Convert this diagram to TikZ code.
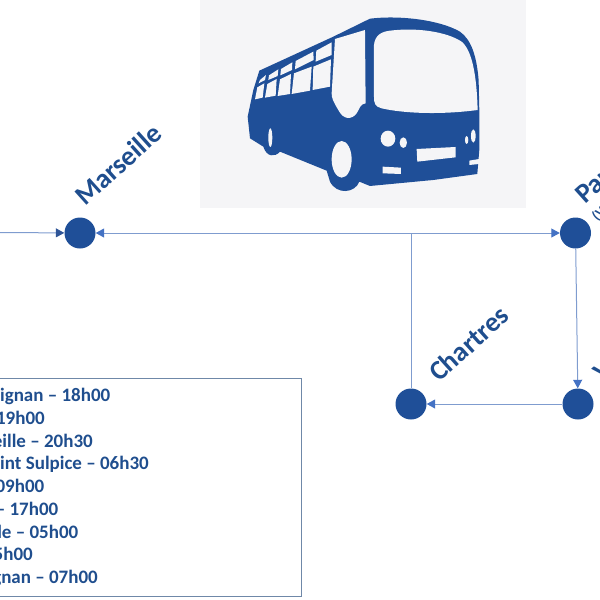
\documentclass[tikz,border=0pt]{standalone}
\usepackage{fontspec}
\setmainfont{Carlito}
\usetikzlibrary{arrows.meta}
\definecolor{busblue}{HTML}{1F4F98}
\definecolor{inkblue}{HTML}{1F4E8E}
\definecolor{linkblue}{HTML}{7F9CCF}
\definecolor{tipblue}{HTML}{4472C4}
\definecolor{tipdark}{HTML}{2F5597}
\definecolor{boxedge}{HTML}{6F88A8}
\definecolor{panel}{HTML}{F5F5F7}
\tikzset{
  stop/.style={circle,fill=busblue,draw=none,minimum size=31pt,inner sep=0pt},
  city/.style={font=\bfseries\fontsize{27.5}{28}\selectfont,text=inkblue,rotate=42,anchor=base west,inner sep=0pt},
  subcity/.style={font=\bfseries\fontsize{14}{14}\selectfont,text=inkblue,rotate=42,anchor=base west,inner sep=0pt},
  row/.style={font=\bfseries\fontsize{19}{20}\selectfont,text=inkblue,anchor=base east,inner sep=0pt},
  link/.style={draw=linkblue,line width=1pt},
  linktip/.style={-{Triangle[length=8.5pt,width=9pt,color=tipblue]}},
  hole/.style={fill=panel,draw=none},
}
\begin{document}
\begin{tikzpicture}[x=1pt,y=-1pt]
\useasboundingbox (0,0) rectangle (600,600);
\fill[panel] (200,0) rectangle (526,208);
% bus
\begin{scope}[shift={(200,0)},x=0.3333pt,y=-0.3333pt]
\fill[busblue] (510,56) .. controls (600,45) and (720,60) .. (780,95)
  .. controls (815,120) and (830,170) .. (836,240) -- (838,330) -- (838,450) -- (832,522)
  -- (700,540) -- (510,558) -- (478,545)
  .. controls (465,580) and (410,585) .. (390,545) -- (380,512)
  -- (240,455) .. controls (225,472) and (200,472) .. (190,440)
  -- (150,415) -- (143,350) -- (160,270) -- (178,212) -- (400,110) -- cycle;
\fill[hole] (522,135) .. controls (525,105) and (545,95) .. (570,92)
  .. controls (650,82) and (740,95) .. (785,125)
  .. controls (815,150) and (830,220) .. (833,330)
  .. controls (720,345) and (610,340) .. (545,325)
  .. controls (525,320) and (522,310) .. (522,290) -- cycle;
\fill[hole] (405,117) -- (495,90) -- (497,310)
  .. controls (480,312) and (480,325) .. (470,340)
  .. controls (455,360) and (430,360) .. (415,330)
  .. controls (400,305) and (395,295) .. (395,280) -- cycle;
\fill[hole] (349,152) -- (395,127) -- (395,165) -- (347,185) -- cycle;
\fill[hole] (287,183) -- (340,155) -- (341,180) -- (285,208) -- cycle;
\fill[hole] (243,207) -- (277,187) -- (276,210) -- (241,226) -- cycle;
\fill[hole] (207,226) -- (235,208) -- (233,228) -- (205,240) -- cycle;
\fill[hole] (180,240) -- (198,225) -- (195,240) -- (176,250) -- cycle;
\fill[hole] (340,200) -- (393,178) -- (390,260) -- (338,270) -- cycle;
\fill[hole] (282,220) -- (335,200) -- (330,272) -- (275,282) -- cycle;
\fill[hole] (240,238) -- (273,222) -- (270,282) -- (233,288) -- cycle;
\fill[hole] (202,252) -- (230,237) -- (227,287) -- (195,293) -- cycle;
\fill[hole] (172,262) -- (193,250) -- (188,293) -- (165,298) -- cycle;
\fill[hole] (564,416) ellipse [x radius=22,y radius=24];
\fill[hole] (610,428) ellipse [x radius=11,y radius=16];
\fill[hole] (820,408) ellipse [x radius=7,y radius=20];
\fill[hole] (800,420) ellipse [x radius=5,y radius=12];
\fill[hole] (650,447) -- (767,441) -- (767,472) -- (652,485) -- cycle;
\fill[hole] (548,500) -- (603,503) -- (603,522) -- (548,520) -- cycle;
\fill[hole] (808,482) -- (838,477) -- (838,492) -- (808,495) -- cycle;
\fill[hole] (425,478) ellipse [x radius=30,y radius=55];
\fill[hole] (211,413) ellipse [x radius=6,y radius=28];
\end{scope}
% stops
\node[stop] (marseille) at (80,233) {};
\node[stop] (paris) at (575.5,233) {};
\node[stop] (chartres) at (411,404) {};
\node[stop] (versailles) at (578,404) {};
\coordinate (westend) at (-2,232.5);
\coordinate (junction) at (411,233);
% connectors
\draw[link,-{Triangle[length=8.5pt,width=9pt,color=tipdark]}] (westend) -- (marseille);
\draw[link,{Triangle[length=8.5pt,width=9pt,color=tipblue]}-{Triangle[length=8.5pt,width=9pt,color=tipblue]}] (marseille) -- (paris);
\draw[link] (chartres) -- (junction);
\draw[link,linktip] (paris) -- (versailles);
\draw[link,linktip] (versailles) -- (chartres);
% labels
\node[city] (lblmarseille) at (85,207) {Marseille};
\node[city] (lblchartres) at (439,383) {Chartres};
\node[city] (lblparis) at (585,205) {Paris};
\node[subcity] (lblparissub) at (597,222) {(V};
\node[city] (lblversailles) at (603,383) {V};
% table
\node[draw=boxedge,line width=1pt,fill=none,minimum width=322pt,minimum height=218pt,inner sep=0pt,anchor=north east] (timetable) at (302,378) {};
\node[row] (r1) at (110.5,401) {ignan – 18h00};
\node[row] (r2) at (45,424) {19h00};
\node[row] (r3) at (93,447) {eille – 20h30};
\node[row] (r4) at (149,469) {int Sulpice – 06h30};
\node[row] (r5) at (44.5,492) {09h00};
\node[row] (r6) at (58.5,515) {– 17h00};
\node[row] (r7) at (78.5,538) {le – 05h00};
\node[row] (r8) at (33,560) {5h00};
\node[row] (r9) at (98,583) {gnan – 07h00};
\end{tikzpicture}
\end{document}
